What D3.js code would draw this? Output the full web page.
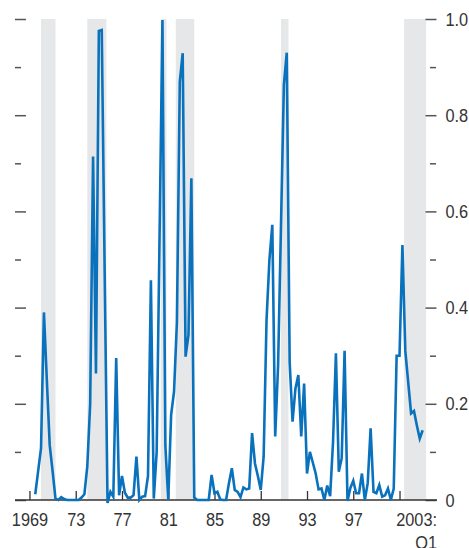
<!DOCTYPE html>
<html>
<head>
<meta charset="utf-8">
<script src="https://cdnjs.cloudflare.com/ajax/libs/d3/7.8.5/d3.min.js"></script>
<style>
    body { margin: 0; background: #fff; }
    text { font-family: "Liberation Sans Narrow", "Arial Narrow", "Liberation Sans", sans-serif; fill: #333; }
</style>
</head>
<body>
<script>
//Quarterly series, starting 1969:Q3 and ending 2003:Q1
var startYear = 1969;
var startQuarter = 3;
var values = [
    0.012, 0.06,                    // 1969
    0.108, 0.39, 0.25, 0.114,       // 1970
    0.06, 0.003, 0.0, 0.006,        // 1971
    0.002, 0.0, 0.0, 0.0,           // 1972
    0.0, 0.0, 0.005, 0.012,         // 1973
    0.07, 0.2, 0.714, 0.263,        // 1974
    0.975, 0.977, 0.48, -0.006,     // 1975
    0.017, 0.007, 0.295, 0.01,      // 1976
    0.05, 0.015, 0.005, 0.005,      // 1977
    0.01, 0.09, 0.0, 0.007,         // 1978
    0.008, 0.05, 0.457, 0.003,      // 1979
    0.1, 0.55, 0.998, 0.114,        // 1980
    0.0, 0.177, 0.225, 0.37,        // 1981
    0.87, 0.929, 0.298, 0.343,      // 1982
    0.669, 0.005, 0.0, 0.0,         // 1983
    0.0, 0.0, 0.0, 0.052,           // 1984
    0.014, 0.017, 0.001, 0.0,       // 1985
    0.0, 0.035, 0.066, 0.021,       // 1986
    0.017, 0.006, 0.026, 0.022,     // 1987
    0.024, 0.139, 0.076, 0.05,      // 1988
    0.021, 0.09, 0.374, 0.5,        // 1989
    0.572, 0.132, 0.28, 0.57,       // 1990
    0.863, 0.93, 0.287, 0.163,      // 1991
    0.232, 0.26, 0.132, 0.242,      // 1992
    0.055, 0.1, 0.078, 0.055,       // 1993
    0.022, 0.024, 0.0, 0.03,        // 1994
    0.008, 0.12, 0.305, 0.059,      // 1995
    0.087, 0.31, -0.002, 0.025,     // 1996
    0.04, 0.014, 0.014, 0.055,      // 1997
    0.0, 0.035, 0.149, 0.017,       // 1998
    0.014, 0.031, 0.007, 0.01,      // 1999
    0.024, 0.0, 0.024, 0.30,        // 2000
    0.30, 0.53, 0.31, 0.245,        // 2001
    0.18, 0.185, 0.155, 0.128,      // 2002
    0.145                           // 2003
];

//Shaded periods (start, end in years)
var shadeStart = [1970.0, 1974.0, 1980.35, 1981.65, 1990.75, 2001.4];
var shadeEnd = [1971.25, 1975.65, 1980.85, 1983.25, 1991.4, 2003.3];

//Axis ticks and labels
var xTicks = [1969, 1973, 1977, 1981, 1985, 1989, 1993, 1997, 2001];
var xTickLabels = ["1969", "73", "77", "81", "85", "89", "93", "97", ""];
var lastLabel = ["2003:", "Q1"];
var yMajor = [0, 0.2, 0.4, 0.6, 0.8, 1.0];
var yMinor = [0.1, 0.3, 0.5, 0.7, 0.9];

var data = values.map(function (v, i) {
    var q = startQuarter - 1 + i;
    return { t: startYear + q / 4, v: v };
});
var shades = shadeStart.map(function (s, i) { return { s: s, e: shadeEnd[i] }; });

//Width and height
var w = 469;
var h = 548;
var m = { left: 26, right: 426, top: 19, bottom: 500 };
var fontSize = 19;
var squeeze = 0.86;

var xScale = d3.scaleLinear()
    .domain([1968.7, 2003.29])
    .range([m.left, m.right]);

var yScale = d3.scaleLinear()
    .domain([0, 1])
    .range([m.bottom, m.top]);

var svg = d3.select("body")
    .append("svg")
    .attr("width", w)
    .attr("height", h);

//Narrow the text horizontally (no condensed font available)
function condense(sel) {
    sel.each(function () {
        var t = d3.select(this);
        var x = +t.attr("x") || 0;
        var y = +t.attr("y") || 0;
        t.attr("x", 0).attr("y", 0)
            .attr("transform", "translate(" + x + "," + y + ") scale(" + squeeze + ",1)");
    });
}

//Shaded bars
svg.selectAll("rect.shade")
    .data(shades)
    .enter()
    .append("rect")
    .attr("class", "shade")
    .attr("x", function (d) { return xScale(d.s); })
    .attr("width", function (d) { return xScale(d.e) - xScale(d.s); })
    .attr("y", yScale(1))
    .attr("height", yScale(0) - yScale(1))
    .attr("fill", "#e6e7e9");

//Left ticks (no labels)
svg.append("g")
    .attr("transform", "translate(" + m.left + ",0)")
    .call(d3.axisLeft(yScale).tickValues(yMajor).tickSize(11).tickFormat(""))
    .call(function (g) { g.select(".domain").remove(); });
svg.append("g")
    .attr("transform", "translate(" + (m.left - 5) + ",0)")
    .call(d3.axisLeft(yScale).tickValues(yMinor).tickSize(6).tickFormat(""))
    .call(function (g) { g.select(".domain").remove(); });

//Right ticks with labels
svg.append("g")
    .attr("class", "yright")
    .attr("transform", "translate(" + (m.right - 0.5) + ",0)")
    .call(d3.axisRight(yScale).tickValues(yMajor).tickSize(11).tickPadding(9)
        .tickFormat(function (d) { return d === 0 ? "0" : d3.format(".1f")(d); }))
    .call(function (g) { g.select(".domain").remove(); });
svg.append("g")
    .attr("transform", "translate(" + (m.right + 4) + ",0)")
    .call(d3.axisRight(yScale).tickValues(yMinor).tickSize(6).tickFormat(""))
    .call(function (g) { g.select(".domain").remove(); });

svg.selectAll(".tick line")
    .attr("stroke", "#555")
    .attr("stroke-width", 1.5);
svg.selectAll(".yright text")
    .attr("font-size", fontSize)
    .attr("fill", "#333")
    .call(condense);

//X axis, ticks pointing up
var xAxis = svg.append("g")
    .attr("class", "xaxis")
    .attr("transform", "translate(0," + m.bottom + ")")
    .call(d3.axisBottom(xScale).tickValues(xTicks).tickSizeInner(-9).tickSizeOuter(0).tickPadding(12)
        .tickFormat(function (d, i) { return xTickLabels[i]; }));
xAxis.select(".domain").remove();
xAxis.selectAll(".tick line")
    .attr("stroke", "#333")
    .attr("stroke-width", 1.3);
xAxis.selectAll("text")
    .attr("font-size", fontSize)
    .attr("fill", "#333")
    .call(condense);

xAxis.append("line")
    .attr("x1", m.left - 11)
    .attr("x2", m.right + 11)
    .attr("stroke", "#333")
    .attr("stroke-width", 1.3);

//"2003:Q1" on two lines, right-aligned at the axis end
xAxis.selectAll("text.last")
    .data(lastLabel)
    .enter()
    .append("text")
    .attr("class", "last")
    .attr("text-anchor", "end")
    .attr("font-size", fontSize)
    .attr("fill", "#333")
    .attr("x", m.right + 11)
    .attr("y", function (d, i) { return 25.5 + i * 23; })
    .text(function (d) { return d; })
    .call(condense);

//The series line
var line = d3.line()
    .x(function (d) { return xScale(d.t); })
    .y(function (d) { return yScale(d.v); });

svg.append("path")
    .datum(data)
    .attr("fill", "none")
    .attr("stroke", "#0a72bd")
    .attr("stroke-width", 2.6)
    .attr("d", line);
</script>
</body>
</html>
